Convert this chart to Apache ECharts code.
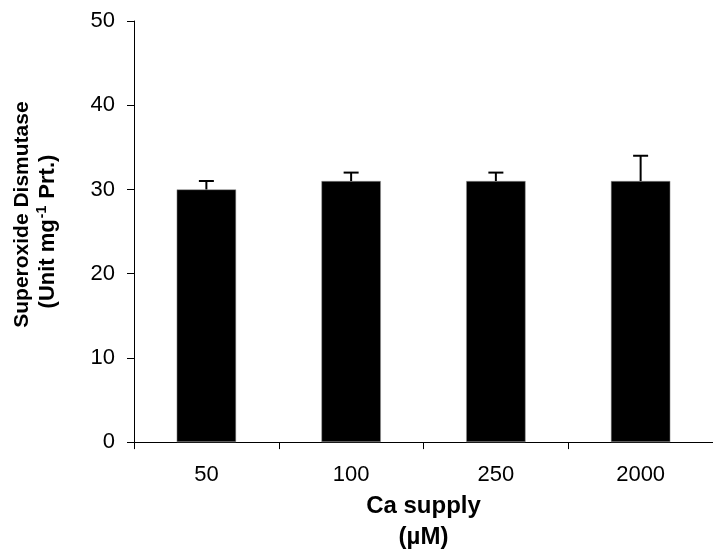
<!DOCTYPE html>
<html><head><meta charset="utf-8">
<script src="https://cdn.jsdelivr.net/npm/echarts@6/dist/echarts.min.js"></script>
<style>html,body{margin:0;padding:0;background:#fff}#c{width:713px;height:558px}</style>
</head><body><div id="c"></div>
<script>
var categories = ['50', '100', '250', '2000'];
var sodValues = [30, 31, 31, 31];
var sodErrors = [1, 1, 1, 3];
var yTicks = [0, 10, 20, 30, 40, 50];

var chart = echarts.init(document.getElementById('c'));
var font = 'Arial, "Liberation Sans", sans-serif';
chart.setOption({
  animation: false,
  backgroundColor: '#fff',
  grid: { left: 134, right: -9, top: 21, bottom: 110 },
  xAxis: {
    type: 'category', data: categories,
    axisLine: { lineStyle: { color: '#000', width: 1 } },
    axisTick: { show: true, length: 7, alignWithLabel: false, lineStyle: { color: '#000' } },
    axisLabel: { color: '#000', fontSize: 22, fontFamily: font, margin: 22 },
    name: 'Ca supply\n(µM)', nameLocation: 'middle', nameGap: 44,
    nameTextStyle: { color: '#000', fontSize: 24, fontWeight: 'bold', fontFamily: font, lineHeight: 31 }
  },
  yAxis: {
    type: 'value', min: yTicks[0], max: yTicks[yTicks.length - 1], interval: 10,
    splitLine: { show: false },
    axisLine: { show: true, lineStyle: { color: '#000', width: 1 } },
    axisTick: { show: true, length: 7, inside: false, lineStyle: { color: '#000' } },
    axisLabel: { color: '#000', fontSize: 22, fontFamily: font, margin: 19 },
    name: '{t1|Superoxide Dismutase}\n{t|(Unit mg}{s|-1}{t| Prt.)}', nameLocation: 'middle', nameGap: 73,
    nameTextStyle: {
      color: '#000', fontFamily: font, fontWeight: 'bold', lineHeight: 26,
      rich: {
        t1: { fontSize: 21, fontWeight: 'bold', fontFamily: font, color: '#000', lineHeight: 26, padding: [0, 0, 0, 34] },
        t: { fontSize: 22, fontWeight: 'bold', fontFamily: font, color: '#000', lineHeight: 26 },
        s: { fontSize: 14, fontWeight: 'bold', fontFamily: font, color: '#000', verticalAlign: 'top', lineHeight: 26, padding: [0, 1, 8, 1] }
      }
    }
  },
  series: [{
    type: 'bar', data: sodValues, barWidth: '41%',
    itemStyle: { color: '#000', borderColor: '#999', borderWidth: 0.5 }
  }, {
    type: 'custom',
    data: categories.map(function (c, i) { return [i, sodValues[i], sodValues[i] + sodErrors[i]]; }),
    renderItem: function (params, api) {
      var base = api.coord([api.value(0), api.value(1)]);
      var top = api.coord([api.value(0), api.value(2)]);
      var hw = 7.5;
      return {
        type: 'group',
        children: [
          { type: 'line', shape: { x1: base[0], y1: base[1], x2: top[0], y2: top[1] }, style: { stroke: '#000', lineWidth: 2 } },
          { type: 'line', shape: { x1: top[0] - hw, y1: top[1], x2: top[0] + hw, y2: top[1] }, style: { stroke: '#000', lineWidth: 2 } }
        ]
      };
    },
    z: 3
  }]
});
</script></body></html>
